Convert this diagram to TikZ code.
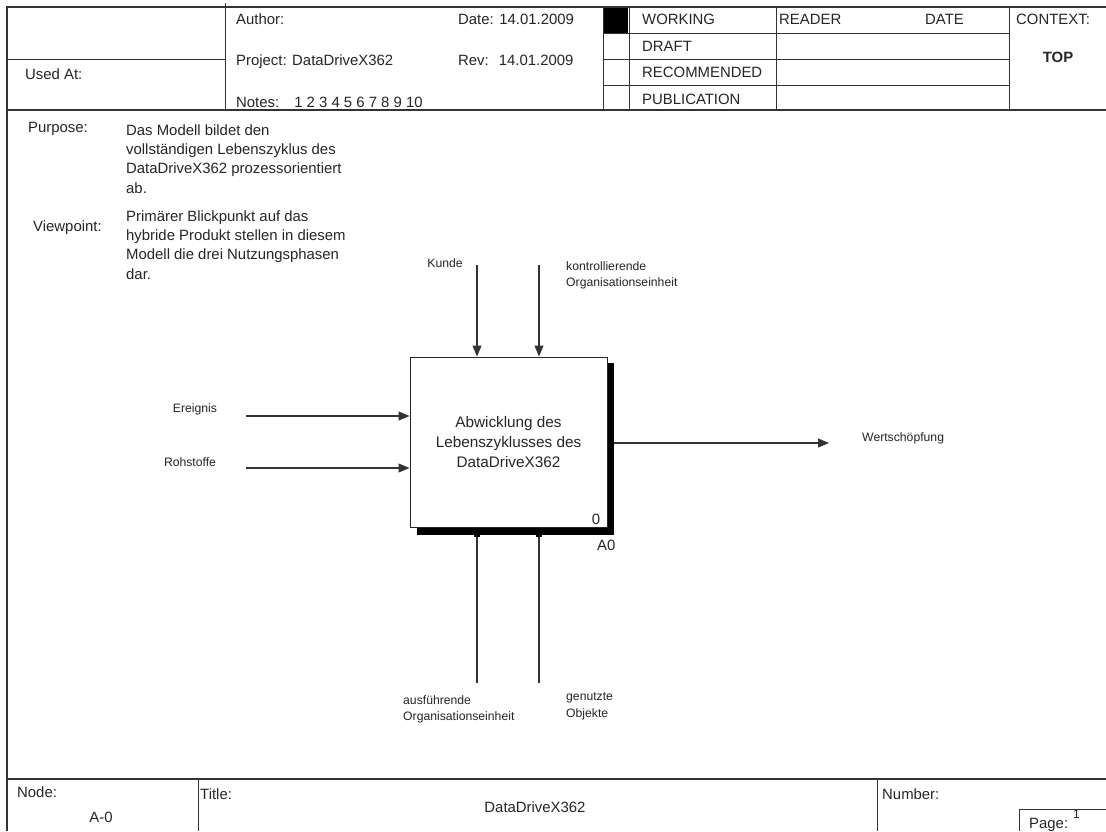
\documentclass[tikz,border=0pt]{standalone}
\usepackage{fontspec}
\setmainfont{Liberation Sans}
\usetikzlibrary{arrows.meta}
\begin{document}
\begin{tikzpicture}[x=1pt,y=-1pt,
  frame/.style={line width=1.3pt, draw=black!80},
  grid/.style={line width=1pt, draw=black!80},
  conn/.style={line width=1.1pt, draw=black!80},
  arr/.style={conn, -{Triangle[length=11pt,width=9pt]}},
  txt/.style={inner sep=0pt, text=black!85, font=\fontsize{14.9}{19.4}\selectfont},
  small/.style={inner sep=0pt, text=black!85, font=\fontsize{12.2}{16}\selectfont},
]
\useasboundingbox (0,0) rectangle (1106,831);
\fill[white] (0,0) rectangle (1106,831);

% ---------- outer frame and header ----------
\draw[frame] (7,831) -- (7,7) -- (1106,7);
\draw[frame] (7,110) -- (1106,110);
\draw[grid] (7,59) -- (225,59);
\draw[grid] (225,3) -- (225,110);
\draw[grid] (603,7) -- (603,110);
\draw[grid] (629,7) -- (629,110);
\draw[grid] (776,7) -- (776,110);
\draw[grid] (1009,7) -- (1009,110);
\foreach \yy in {33,59,85} \draw[grid] (603,\yy) -- (1009,\yy);
\fill[black] (604,8) rectangle (628,33);

\node[txt, anchor=base west] (usedat) at (25,79) {Used At:};
\node[txt, anchor=base west] (author) at (236,24) {Author:};
\node[txt, anchor=base west] (date) at (458,24) {Date: 14.01.2009};
\node[txt, anchor=base west] (project) at (236,65) {Project: DataDriveX362};
\node[txt, anchor=base west] (rev) at (458,65) {Rev:\hspace{10pt}14.01.2009};
\node[txt, anchor=base west] (notes) at (236,107) {Notes:\hspace{15pt}1 2 3 4 5 6 7 8 9 10};

\node[txt, anchor=base west] (working) at (642,24) {WORKING};
\node[txt, anchor=base west] (draft) at (642,51) {DRAFT};
\node[txt, anchor=base west] (recommended) at (642,77) {RECOMMENDED};
\node[txt, anchor=base west] (publication) at (642,104) {PUBLICATION};
\node[txt, anchor=base west] (reader) at (779,24) {READER};
\node[txt, anchor=base west] (datehd) at (925,24) {DATE};
\node[txt, anchor=base west] (context) at (1016,24) {CONTEXT:};
\node[txt, anchor=base, font=\fontsize{14.9}{18}\selectfont\bfseries] (top) at (1058,62) {TOP};

% ---------- purpose / viewpoint ----------
\node[txt, anchor=base west] (purpose) at (28,132) {Purpose:};
\node[txt, anchor=north west, align=left] (purposetext) at (126,124)
  {Das Modell bildet den\\vollständigen Lebenszyklus des\\DataDriveX362 prozessorientiert\\ab.};
\node[txt, anchor=base west] (viewpoint) at (33,231) {Viewpoint:};
\node[txt, anchor=north west, align=left] (viewtext) at (126,210)
  {Primärer Blickpunkt auf das\\hybride Produkt stellen in diesem\\Modell die drei Nutzungsphasen\\dar.};

% ---------- activity box ----------
\node[fill=black, inner sep=0pt, minimum width=197pt, minimum height=172pt] (shadow) at (515.5,449) {};
\node[draw=black!85, line width=1pt, fill=white, inner sep=0pt, minimum width=197pt, minimum height=170pt,
      txt, align=center, font=\fontsize{15.3}{20}\selectfont] (box) at (508.5,442)
  {Abwicklung des\\Lebenszyklusses des\\DataDriveX362};
\node[txt, anchor=base] (boxnum) at (596,524) {0};
\node[txt, anchor=base west] (boxid) at (597,550) {A0};

% ---------- labels ----------
\node[small, anchor=base] (kunde) at (445,267) {Kunde};
\node[small, anchor=base west] (kontroll) at (566,270) {kontrollierende};
\node[small, anchor=base west] (kontroll2) at (566,286) {Organisationseinheit};
\node[small, anchor=base] (ereignis) at (195,412) {Ereignis};
\node[small, anchor=base] (rohstoffe) at (190,466) {Rohstoffe};
\node[small, anchor=base west] (wert) at (862,441) {Wertschöpfung};
\node[small, anchor=base west] (ausf) at (403,704) {ausführende};
\node[small, anchor=base west] (ausf2) at (403,720) {Organisationseinheit};
\node[small, anchor=base west] (genutzt) at (566,700) {genutzte};
\node[small, anchor=base west] (genutzt2) at (566,717) {Objekte};

% ---------- connectors ----------
\coordinate (kA) at (477,265);
\coordinate (kB) at (539,265);
\coordinate (eA) at (246,416);
\coordinate (eB) at (246,468);
\coordinate (oA) at (829,443);
\coordinate (mA) at (477,683);
\coordinate (mB) at (539,683);
\draw[arr] (kA) -- (kA |- box.north);
\draw[arr] (kB) -- (kB |- box.north);
\draw[arr] (eA) -- (eA -| box.west);
\draw[arr] (eB) -- (eB -| box.west);
\draw[arr] (shadow.east |- oA) -- (oA);
\draw[conn] (mA |- shadow.south) -- (mA);
\draw[conn] (mB |- shadow.south) -- (mB);
\node[fill=black, inner sep=0pt, minimum width=6pt, minimum height=4pt] (tA) at (mA |- shadow.south) {};
\node[fill=black, inner sep=0pt, minimum width=6pt, minimum height=4pt] (tB) at (mB |- shadow.south) {};

% ---------- footer ----------
\draw[frame] (7,779) -- (1106,779);
\draw[grid] (198,779) -- (198,831);
\draw[grid] (877,779) -- (877,831);
\draw[grid] (1019,831) -- (1019,809) -- (1106,809);
\node[txt, anchor=base west] (nodelbl) at (17,797) {Node:};
\node[txt, anchor=base] (nodeval) at (101,822) {A-0};
\node[txt, anchor=base west] (titlelbl) at (200,799) {Title:};
\node[txt, anchor=base] (titleval) at (535,812) {DataDriveX362};
\node[txt, anchor=base west] (numlbl) at (882,799) {Number:};
\node[txt, anchor=base west] (pagelbl) at (1029,828) {Page:};
\node[small, anchor=base west] (pageval) at (1073,818) {1};
\end{tikzpicture}
\end{document}
